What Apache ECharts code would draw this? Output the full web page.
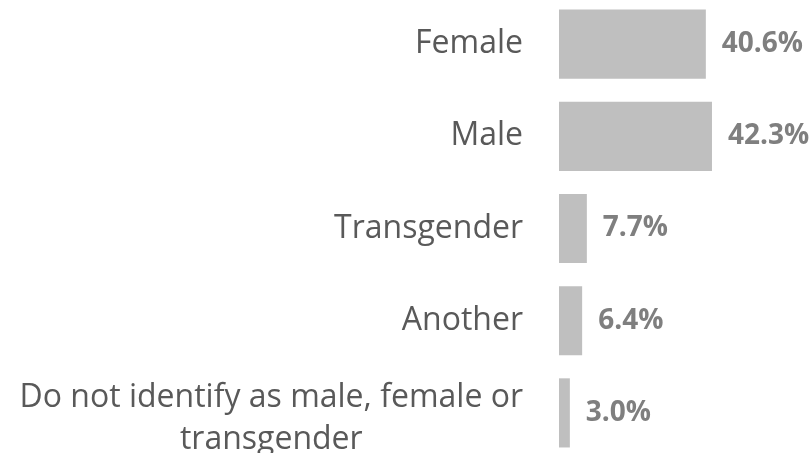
<!DOCTYPE html>
<html>
<head>
<meta charset="utf-8">
<script src="https://cdn.jsdelivr.net/npm/echarts@6/dist/echarts.min.js"></script>
<style>
  html, body { margin: 0; padding: 0; background: #ffffff; }
  #chart { width: 812px; height: 453px; }
</style>
</head>
<body>
<div id="chart"></div>
<script>
const categories = [
  "Female",
  "Male",
  "Transgender",
  "Another",
  "Do not identify as male, female or\ntransgender",
];
const values = [40.6, 42.3, 7.7, 6.4, 3.0];

const chart = echarts.init(document.getElementById("chart"), null, { renderer: "canvas" });

const labelFont = {
  color: "#595959",
  fontFamily: "Open Sans",
  fontSize: 32,
};

const option = {
  animation: false,
  grid: {
    left: 559,
    right: 36,
    top: -2,
    bottom: -6,
    containLabel: false,
    outerBoundsMode: "none",
  },
  xAxis: {
    type: "value",
    min: 0,
    max: 60,
    show: false,
  },
  yAxis: {
    type: "category",
    inverse: true,
    data: categories,
    axisLine: { show: false },
    axisTick: { show: false },
    splitLine: { show: false },
    axisLabel: {
      margin: 36,
      ...labelFont,
      lineHeight: 42,
      formatter: (val) => {
        if (val.indexOf("\n") >= 0) {
          // wrapped label: lines centred on each other and nudged a little low
          return val.split("\n").map((l) => "{c|" + l + "}").join("\n");
        }
        return val;
      },
      rich: {
        c: { ...labelFont, align: "center", lineHeight: 42, padding: [12, 0, 0, 0] },
      },
    },
  },
  series: [
    {
      type: "bar",
      data: values,
      barCategoryGap: "25%",
      itemStyle: { color: "#bfbfbf" },
      label: {
        show: true,
        position: "right",
        distance: 16,
        color: "#7f7f7f",
        fontFamily: "Open Sans",
        fontWeight: "bold",
        fontSize: 28,
        formatter: (p) => p.value.toFixed(1) + "%",
      },
    },
  ],
};

chart.setOption(option);
</script>
</body>
</html>
